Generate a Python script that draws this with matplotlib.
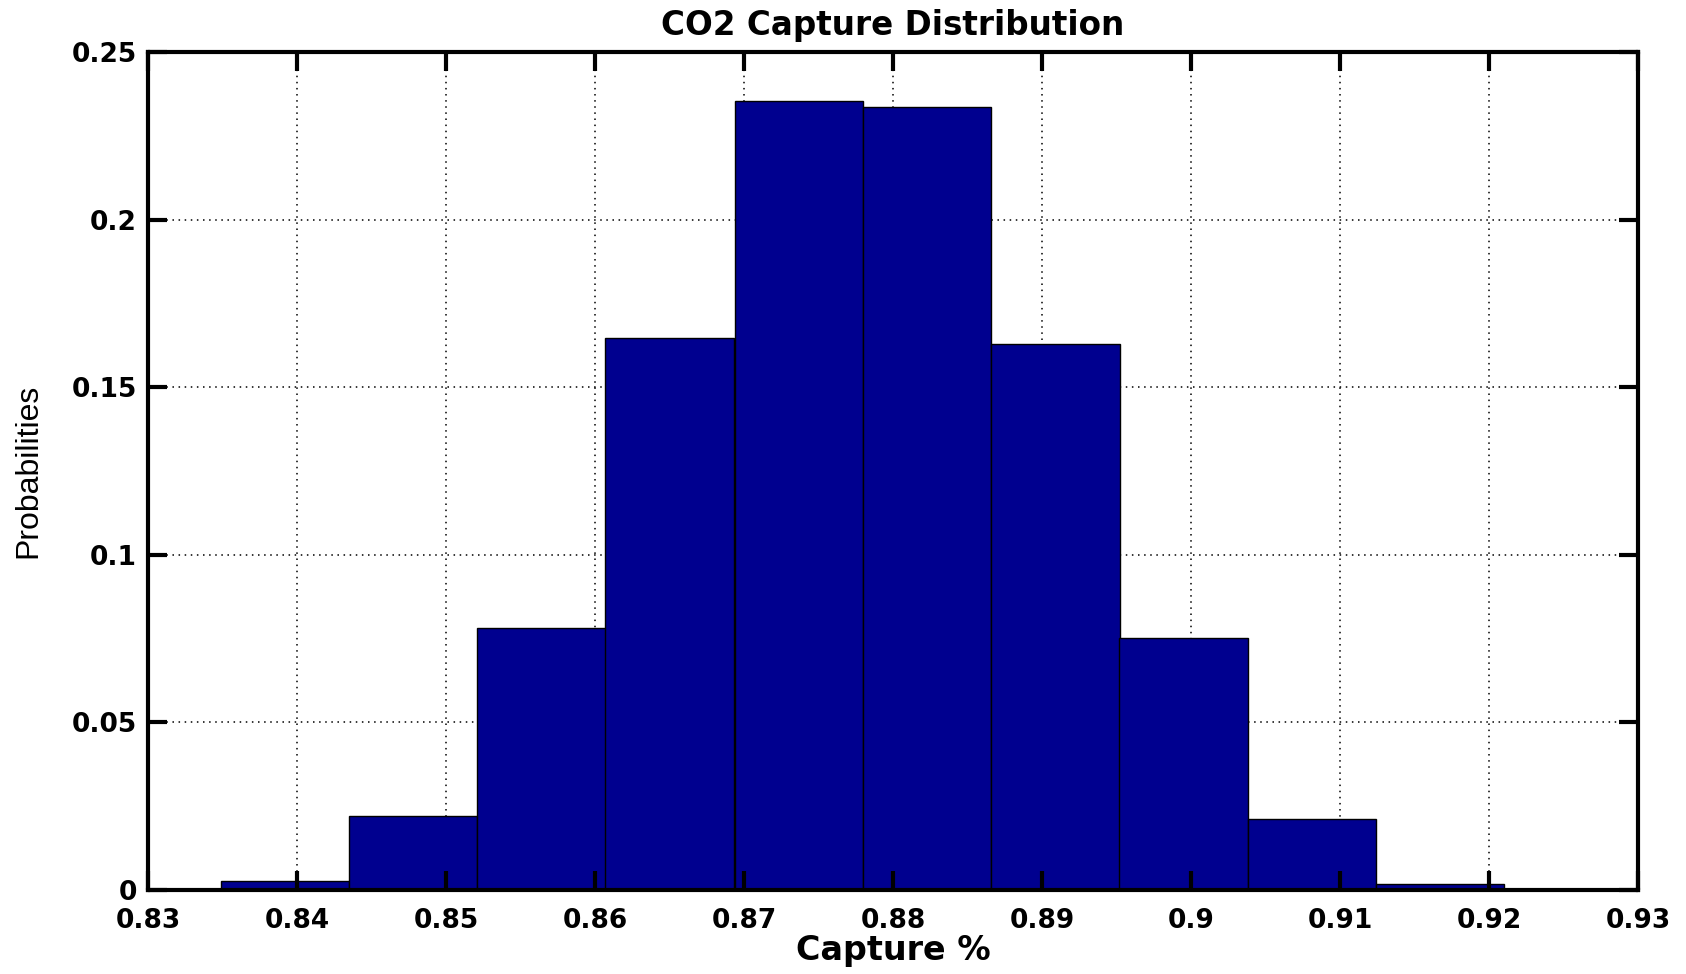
import matplotlib
matplotlib.use('agg')
import matplotlib.pyplot as plt

# histogram bins (10 bins, MATLAB style)
bin_left = [0.8349, 0.8435, 0.8521, 0.8607, 0.8694, 0.8780, 0.8866, 0.8952, 0.9038, 0.9124]
bin_width = 0.00861
probs = [0.0026, 0.0221, 0.0782, 0.1647, 0.2355, 0.2337, 0.1628, 0.0753, 0.0212, 0.0019]

x_ticks = [0.83, 0.84, 0.85, 0.86, 0.87, 0.88, 0.89, 0.9, 0.91, 0.92, 0.93]
x_tick_labels = ['0.83', '0.84', '0.85', '0.86', '0.87', '0.88', '0.89', '0.9', '0.91', '0.92', '0.93']
y_ticks = [0, 0.05, 0.1, 0.15, 0.2, 0.25]
y_tick_labels = ['0', '0.05', '0.1', '0.15', '0.2', '0.25']

plt.rcParams['font.family'] = ['DejaVu Sans']

fig = plt.figure(figsize=(16.86, 9.74), dpi=100)
ax = fig.add_axes([0.0878, 0.0862, 0.8837, 0.8604])

ax.bar(bin_left, probs, width=bin_width, align='edge',
       color='#00008F', edgecolor='black', linewidth=1, zorder=1)

# dotted grid behind the bars, ticks stay on top
for xt in x_ticks[1:-1]:
    ax.axvline(xt, color='black', lw=1.1, ls=(0, (1, 3)), zorder=0.5)
for yt in y_ticks[1:-1]:
    ax.axhline(yt, color='black', lw=1.1, ls=(0, (1, 3)), zorder=0.5)

ax.set_xlim(0.83, 0.93)
ax.set_ylim(0, 0.25)
ax.set_xticks(x_ticks)
ax.set_xticklabels(x_tick_labels, fontsize=19, fontweight='bold')
ax.set_yticks(y_ticks)
ax.set_yticklabels(y_tick_labels, fontsize=19, fontweight='bold')

ax.tick_params(direction='in', length=14, width=3, top=True, right=True)
ax.tick_params(axis='x', pad=13)
ax.tick_params(axis='y', pad=8)
for s in ax.spines.values():
    s.set_linewidth(3)

ax.set_title('CO2 Capture Distribution', fontsize=23.5, fontweight='bold', pad=12)
ax.set_xlabel('Capture %', fontsize=24, fontweight='bold', labelpad=0)
ax.set_ylabel('Probabilities', fontsize=23, family=['Liberation Sans Narrow', 'Liberation Sans'],
              labelpad=20)

fig.savefig('out.png', dpi=100)
